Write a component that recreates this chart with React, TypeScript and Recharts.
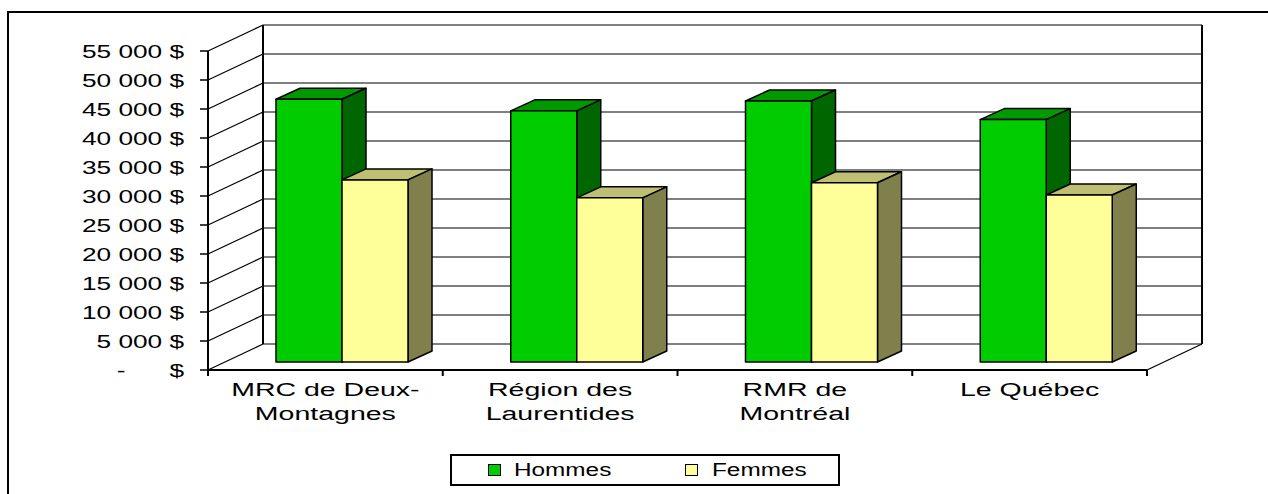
import { Bar, BarChart, CartesianGrid, XAxis, YAxis } from "recharts";

// values
const categories = [
  "MRC de Deux-\nMontagnes",
  "Région des\nLaurentides",
  "RMR de\nMontréal",
  "Le Québec",
];
const hommes = [45300, 43300, 45000, 41800];
const femmes = [31400, 28300, 30900, 28800];
const yTicks = [0, 5000, 10000, 15000, 20000, 25000, 30000, 35000, 40000, 45000, 50000, 55000];
const seriesNames = ["Hommes", "Femmes"];

const data = categories.map((name, i) => ({ name, hommes: hommes[i], femmes: femmes[i] }));

const FONT = '"Liberation Sans", Arial, sans-serif';
// 3D offsets (px): back wall, bar front plane, bar depth
const WALL_DX = 55;
const WALL_DY = -26;
const BAR_DX = 17;
const BAR_DY = -8;
const DEPTH_DX = 24;
const DEPTH_DY = -11;

const colors = {
  hommes: { front: "#00cc00", top: "#009900", side: "#006600" },
  femmes: { front: "#ffff99", top: "#bfbf73", side: "#80804d" },
};

function fmtMoney(v: number) {
  return `${String(v).replace(/\B(?=(\d{3})+(?!\d))/g, " ")} $`;
}

function bar3d(c: { front: string; top: string; side: string }) {
  return (props: any) => {
    const { x, y, width: w, height: h } = props;
    if (!h) return <g />;
    const fx = x + BAR_DX;
    const fy = y + BAR_DY;
    const line = { stroke: "#000", strokeWidth: 1.5, strokeLinejoin: "round" as const };
    return (
      <g>
        <polygon
          points={`${fx},${fy} ${fx + w},${fy} ${fx + w + DEPTH_DX},${fy + DEPTH_DY} ${fx + DEPTH_DX},${fy + DEPTH_DY}`}
          fill={c.top}
          {...line}
        />
        <polygon
          points={`${fx + w},${fy} ${fx + w + DEPTH_DX},${fy + DEPTH_DY} ${fx + w + DEPTH_DX},${fy + h + DEPTH_DY} ${fx + w},${fy + h}`}
          fill={c.side}
          {...line}
        />
        <rect x={fx} y={fy} width={w} height={h} fill={c.front} {...line} />
      </g>
    );
  };
}

function YTick({ x, y, payload }: any) {
  const v = payload.value as number;
  const common = { fontFamily: FONT, fontSize: 19, fill: "#000", dominantBaseline: "central" as const };
  if (v === 0) {
    return (
      <g>
        <text transform={`translate(${x - 63},${y}) scale(1.38,1)`} textAnchor="middle" {...common}>
          -
        </text>
        <text transform={`translate(${x},${y}) scale(1.38,1)`} textAnchor="end" {...common}>
          $
        </text>
      </g>
    );
  }
  return (
    <text transform={`translate(${x},${y}) scale(1.38,1)`} textAnchor="end" {...common}>
      {fmtMoney(v)}
    </text>
  );
}

function XTick({ x, y, payload, width, visibleTicksCount, index }: any) {
  const half = payload.offset > 0 ? payload.offset : width / visibleTicksCount / 2;
  const lines = String(payload.value).split("\n");
  return (
    <g>
      <line x1={x - half} y1={y} x2={x - half} y2={y + 6} stroke="#000" strokeWidth={2} />
      {index === visibleTicksCount - 1 && (
        <line x1={x + half} y1={y} x2={x + half} y2={y + 6} stroke="#000" strokeWidth={2} />
      )}
      {lines.map((l, i) => (
        <text
          key={i}
          transform={`translate(${x},${y + 26 + i * 24}) scale(1.5,1)`}
          textAnchor="middle"
          fontFamily={FONT}
          fontSize={19}
          fill="#000"
        >
          {l}
        </text>
      ))}
    </g>
  );
}

function GridH(p: any) {
  return (
    <path
      key={p.key}
      d={`M${p.x1},${p.y1}L${p.x1 + WALL_DX},${p.y1 + WALL_DY}L${p.x2 + WALL_DX},${p.y2 + WALL_DY}`}
      fill="none"
      stroke="#000"
      strokeWidth={1.2}
    />
  );
}

function GridV(p: any) {
  const right = p.index === 1;
  return (
    <g key={p.key}>
      <line
        x1={p.x1 + WALL_DX}
        y1={p.y1 + WALL_DY}
        x2={p.x2 + WALL_DX}
        y2={p.y2 + WALL_DY}
        stroke="#000"
        strokeWidth={2}
      />
      {right && (
        <line
          x1={p.x2}
          y1={p.y2}
          x2={p.x2 + WALL_DX}
          y2={p.y2 + WALL_DY}
          stroke="#000"
          strokeWidth={1.2}
        />
      )}
    </g>
  );
}

const legendSwatch = [colors.hommes.front, colors.femmes.front];

export default function App() {
  return (
    <div
      style={{
        position: "absolute",
        left: 0,
        top: 0,
        width: 1268,
        height: 494,
        overflow: "hidden",
        background: "#fff",
      }}
    >
      <div
        style={{
          position: "absolute",
          left: 7,
          top: 11,
          width: 1400,
          height: 600,
          border: "2px solid #000",
        }}
      />
      <div style={{ position: "absolute", left: 0, top: 0 }}>
        <BarChart
          width={1268}
          height={494}
          data={data}
          margin={{ top: 51, right: 121, bottom: 0, left: 0 }}
          barSize={66}
          barGap={0}
        >
          <CartesianGrid
            horizontal={GridH}
            vertical={GridV}
            verticalCoordinatesGenerator={({ offset }: any) => [offset.left, offset.left + offset.width]}
          />
          <XAxis
            dataKey="name"
            height={124}
            interval={0}
            tickLine={false}
            tickSize={0}
            tickMargin={0}
            axisLine={{ stroke: "#000", strokeWidth: 2 }}
            tick={<XTick />}
          />
          <YAxis
            width={208}
            domain={[0, 55000]}
            ticks={yTicks}
            interval={0}
            tickSize={8}
            tickMargin={16}
            tickLine={{ stroke: "#000", strokeWidth: 1.5 }}
            axisLine={{ stroke: "#000", strokeWidth: 2 }}
            tick={<YTick />}
          />
          <Bar dataKey="hommes" name={seriesNames[0]} shape={bar3d(colors.hommes)} isAnimationActive={false} />
          <Bar dataKey="femmes" name={seriesNames[1]} shape={bar3d(colors.femmes)} isAnimationActive={false} />
        </BarChart>
      </div>
      <div
        style={{
          position: "absolute",
          left: 450,
          top: 454,
          width: 386,
          height: 28,
          border: "2px solid #000",
          background: "#fff",
          fontFamily: FONT,
          fontSize: 17.5,
        }}
      >
        {seriesNames.map((s, i) => (
          <div key={s}>
            <div
              style={{
                position: "absolute",
                left: 36 + i * 197,
                top: 8,
                width: 11,
                height: 10,
                border: "1px solid #000",
                background: legendSwatch[i],
              }}
            />
            <div
              style={{
                position: "absolute",
                left: 62 + i * 198,
                top: 4,
                lineHeight: "20px",
                transform: "scaleX(1.39)",
                transformOrigin: "left center",
                whiteSpace: "nowrap",
              }}
            >
              {s}
            </div>
          </div>
        ))}
      </div>
    </div>
  );
}
